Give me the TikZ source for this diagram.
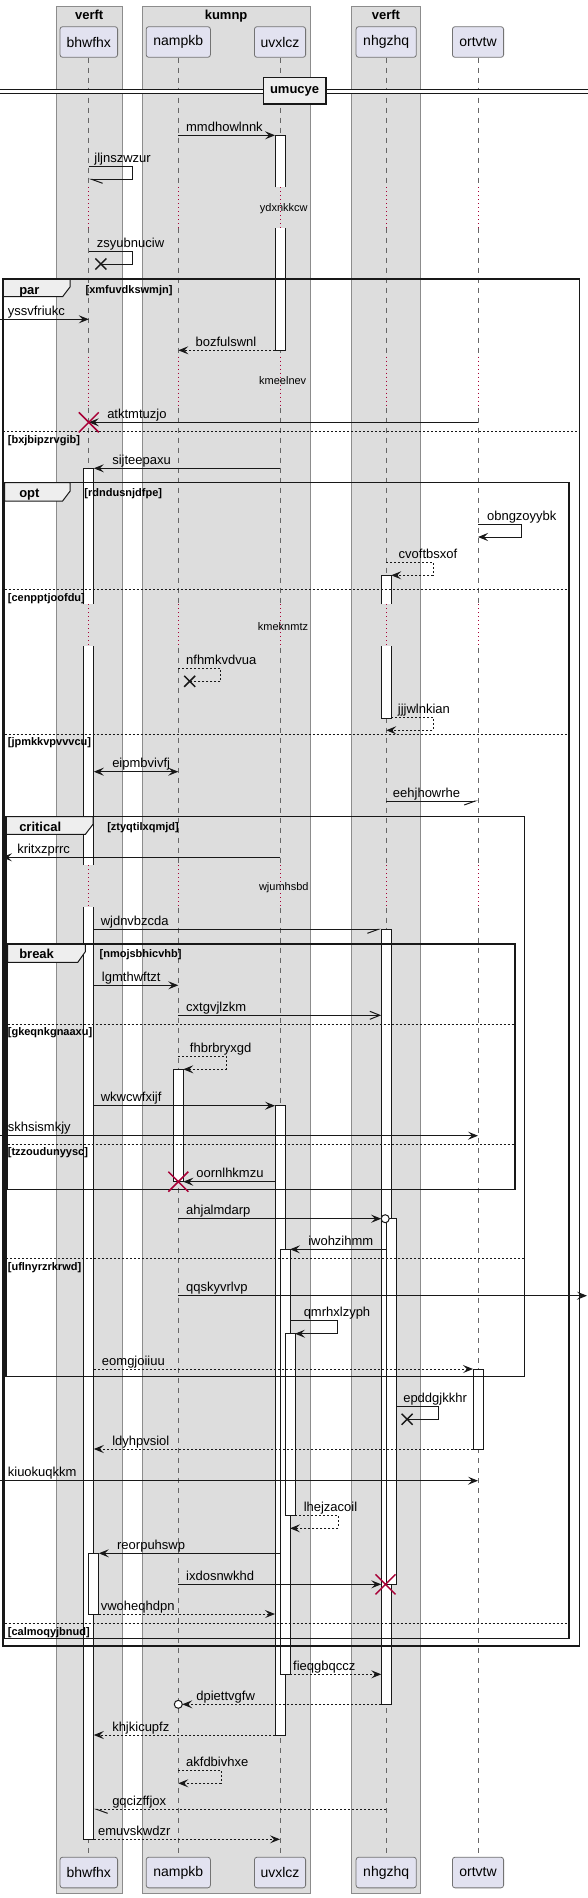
\documentclass[tikz,border=0pt]{standalone}
\usepackage{fontspec}
\setmainfont{Liberation Sans}
\usetikzlibrary{arrows.meta}
\definecolor{ink}{HTML}{181818}
\definecolor{boxgray}{HTML}{DDDDDD}
\definecolor{partfill}{HTML}{E2E2F0}
\definecolor{tabfill}{HTML}{EEEEEE}
\definecolor{delayred}{HTML}{A80036}
\begin{document}
\begin{tikzpicture}[x=0.75pt, y=-0.75pt,
    part/.style={rectangle, rounded corners=2pt, draw=black!55, line width=0.6pt, fill=partfill, minimum height=23pt, inner sep=0pt, font=\fontsize{10.5}{12}\selectfont},
    grp/.style={draw=black!45, line width=0.6pt, fill=boxgray},
    grptitle/.style={anchor=base, inner sep=0pt, font=\bfseries\fontsize{9.75}{11}\selectfont},
    lifeline/.style={draw=black!60, line width=0.5pt, dash pattern=on 3.75pt off 3.75pt},
    delayline/.style={draw=delayred, line width=0.6pt, dash pattern=on 0.75pt off 2.25pt},
    delaytxt/.style={anchor=base, inner sep=0pt, font=\fontsize{8.25}{10}\selectfont},
    divider/.style={draw=ink, line width=1.1pt, fill=tabfill, minimum width=47pt, minimum height=19.7pt, inner sep=0pt, font=\bfseries\fontsize{9.75}{11}\selectfont},
    act/.style={draw=ink, line width=0.75pt},
    frame/.style={draw=ink, line width=1.1pt},
    tab/.style={draw=ink, line width=0.75pt, fill=tabfill},
    sep/.style={draw=ink, line width=0.6pt, dash pattern=on 1.5pt off 1.5pt},
    tabtxt/.style={anchor=base west, inner sep=0pt, font=\bfseries\fontsize{9.75}{11}\selectfont},
    condtxt/.style={anchor=base west, inner sep=0pt, font=\bfseries\fontsize{8.25}{10}\selectfont},
    msgtxt/.style={anchor=base west, inner sep=0pt, font=\fontsize{9.75}{11}\selectfont},
    plain/.style={draw=ink, line width=0.75pt},
    plainret/.style={plain, dash pattern=on 1.5pt off 1.5pt},
    sync/.style={plain, -{Stealth[length=7.5pt, width=6pt, inset=3pt]}},
    ret/.style={plainret, -{Stealth[length=7.5pt, width=6pt, inset=3pt]}},
    both/.style={plain, {Stealth[length=7.5pt, width=6pt, inset=3pt]}-{Stealth[length=7.5pt, width=6pt, inset=3pt]}},
    open/.style={plain, -{Straight Barb[length=7.5pt, width=6pt]}},
    halfl/.style={plain, -{Straight Barb[left, length=8.25pt, width=6pt]}},
    halfr/.style={plain, -{Straight Barb[right, length=8.25pt, width=6pt]}},
    halfrret/.style={plainret, -{Straight Barb[left, length=8.25pt, width=6pt]}},
    redx/.style={draw=delayred, line width=1.1pt},
    blackx/.style={draw=ink, line width=1.1pt}]
\useasboundingbox (0,0) rectangle (588,1898);

% Participant groups
\filldraw[grp] (56.2,6) rectangle (122.2,1893);
\filldraw[grp] (141.9,6) rectangle (310.3,1893);
\filldraw[grp] (351.3,6) rectangle (420.4,1893);
\node[grptitle] (g1) at (89.2,19.5) {verft};
\node[grptitle] (g2) at (226.1,19.5) {kumnp};
\node[grptitle] (g3) at (385.9,19.5) {verft};

% Participants
\node[part, minimum width=43.2pt] (bhwfhx) at (88.8,42) {bhwfhx};
\node[part, minimum width=48.2pt] (nampkb) at (178.3,42) {nampkb};
\node[part, minimum width=38.4pt] (uvxlcz) at (280,42) {uvxlcz};
\node[part, minimum width=45.2pt] (nhgzhq) at (386.2,42) {nhgzhq};
\node[part, minimum width=38.4pt] (ortvtw) at (478,42) {ortvtw};
\node[part, minimum width=43.2pt] (bhwfhx-f) at (88.8,1872.5) {bhwfhx};
\node[part, minimum width=48.2pt] (nampkb-f) at (178.3,1872.5) {nampkb};
\node[part, minimum width=38.4pt] (uvxlcz-f) at (280,1872.5) {uvxlcz};
\node[part, minimum width=45.2pt] (nhgzhq-f) at (386.2,1872.5) {nhgzhq};
\node[part, minimum width=38.4pt] (ortvtw-f) at (478,1872.5) {ortvtw};

% Lifelines with delays
\foreach \p/\bg in {bhwfhx/boxgray, nampkb/boxgray, uvxlcz/boxgray, nhgzhq/boxgray, ortvtw/white} {
  \draw[lifeline] (\p.south) -- (\p-f.north);
  \foreach \ya/\yb in {187.3/228.3, 356.7/406.7, 604.3/646, 865/907.3} {
    \draw[draw=\bg, line width=1.5pt] (\p.south |- 0,\ya) -- (\p.south |- 0,\yb);
    \draw[delayline] (\p.south |- 0,\ya) -- (\p.south |- 0,\yb);
  }
}
\node[delaytxt] (d1) at (283.8,211.8) {ydxnkkcw};
\node[delaytxt] (d2) at (282.7,384.2) {kmeelnev};
\node[delaytxt] (d3) at (283,630.2) {kmeknmtz};
\node[delaytxt] (d4) at (283.8,890.8) {wjumhsbd};

% Divider
\fill[white] (0,89.3) rectangle (588,94);
\draw[plain] (0,89.3) -- (588,89.3) (0,94) -- (588,94);
\node[divider] (umucye) at (294.6,90.9) {umucye};

% Activations
\fill[white] (83.8,468.3) rectangle (93.8,604.3);
\draw[act] (83.8,604.3) -- (83.8,468.3) -- (93.8,468.3) -- (93.8,604.3);
\fill[white] (83.8,646) rectangle (93.8,865);
\draw[act] (83.8,646) -- (83.8,865) (93.8,646) -- (93.8,865);
\fill[white] (83.8,907.3) rectangle (93.8,1839.3);
\draw[act] (83.8,907.3) -- (83.8,1839.3) -- (93.8,1839.3) -- (93.8,907.3);
\filldraw[act, fill=white] (88.8,1553.3) rectangle (98.8,1614);
\filldraw[act, fill=white] (173.3,1069.3) rectangle (183.3,1181.7);
\fill[white] (275,135.3) rectangle (285,187.3);
\draw[act] (275,187.3) -- (275,135.3) -- (285,135.3) -- (285,187.3);
\fill[white] (275,228.3) rectangle (285,350.3);
\draw[act] (275,228.3) -- (275,350.3) -- (285,350.3) -- (285,228.3);
\filldraw[act, fill=white] (275,1105.7) rectangle (285,1735);
\filldraw[act, fill=white] (280,1249.3) rectangle (290,1674.3);
\filldraw[act, fill=white] (285,1333.7) rectangle (295,1515.7);
\fill[white] (381.2,575.3) rectangle (391.2,604.3);
\draw[act] (381.2,604.3) -- (381.2,575.3) -- (391.2,575.3) -- (391.2,604.3);
\fill[white] (381.2,646) rectangle (391.2,718.3);
\draw[act] (381.2,646) -- (381.2,718.3) -- (391.2,718.3) -- (391.2,646);
\filldraw[act, fill=white] (381.2,929.3) rectangle (391.2,1704.3);
\filldraw[act, fill=white] (386.2,1218.7) rectangle (396.2,1584.3);
\filldraw[act, fill=white] (473,1369) rectangle (483,1449);

% Frames
\filldraw[tab] (3,279) -- (70.2,279) -- (70.2,286.7) -- (62.6,296.7) -- (3,296.7) -- cycle;
\draw[frame] (3,279) rectangle (579.3,1646);
\node[tabtxt] (par) at (19,294.2) {par};
\node[condtxt] (par-c1) at (85.4,293.2) {[xmfuvdkswmjn]};
\draw[sep] (3,431.3) -- (579.3,431.3);
\node[condtxt] (par-c2) at (7.6,443.5) {[bxjbipzrvgib]};

\filldraw[tab] (4.5,482.7) -- (70.2,482.7) -- (70.2,491) -- (62.6,501) -- (4.5,501) -- cycle;
\draw[frame] (4.5,482.7) rectangle (569.1,1638.3);
\node[tabtxt] (opt) at (19,497.8) {opt};
\node[condtxt] (opt-c1) at (84.2,496.8) {[rdndusnjdfpe]};
\draw[sep] (4.5,589.3) -- (569.1,589.3);
\node[condtxt] (opt-c2) at (7.6,601.2) {[cenpptjoofdu]};
\draw[sep] (4.5,734.3) -- (569.1,734.3);
\node[condtxt] (opt-c3) at (7.6,745.8) {[jpmkkvpvvvcu]};
\draw[sep] (4.5,1623.3) -- (569.1,1623.3);
\node[condtxt] (opt-c4) at (7.6,1635.2) {[calmoqyjbnud]};

\filldraw[tab] (6,816.7) -- (93,816.7) -- (93,824.3) -- (85.4,834.3) -- (6,834.3) -- cycle;
\draw[frame] (6,816.7) rectangle (524.7,1376.7);
\node[tabtxt] (critical) at (19,831.2) {critical};
\node[condtxt] (crit-c1) at (107,830.2) {[ztyqtilxqmjd]};
\draw[sep] (6,1258.3) -- (524.7,1258.3);
\node[condtxt] (crit-c2) at (7.6,1270.2) {[uflnyrzrkrwd]};

\filldraw[tab] (7.5,944) -- (85.4,944) -- (85.4,951.6) -- (77.8,962.3) -- (7.5,962.3) -- cycle;
\draw[frame] (7.5,944) rectangle (514.8,1189.3);
\node[tabtxt] (break) at (19,958.8) {break};
\node[condtxt] (brk-c1) at (99.4,957.8) {[nmojsbhicvhb]};
\draw[sep] (7.5,1024.3) -- (514.8,1024.3);
\node[condtxt] (brk-c2) at (7.6,1035.8) {[gkeqnkgnaaxu]};
\draw[sep] (7.5,1144.3) -- (514.8,1144.3);
\node[condtxt] (brk-c3) at (7.6,1155.8) {[tzzoudunyysc]};

% Messages
\coordinate (m1a) at (178.3,135.3); \coordinate (m1b) at (275,135.3);
\draw[sync] (m1a) -- (m1b);
\node[msgtxt] (t1) at (185.9,131.3) {mmdhowlnnk};

\coordinate (m2a) at (88.8,166.3); \coordinate (m2b) at (88.8,179.3);
\draw[halfl] (m2a) -- ++(43.2,0) |- (m2b);
\node[msgtxt] (t2) at (94.1,162.3) {jljnszwzur};

\coordinate (m3a) at (88.8,251.3); \coordinate (m3b) at (100.8,264);
\draw[plain] (m3a) -- ++(43.2,0) |- (m3b);
\draw[blackx] (m3b) +(-5.5,-5.5) -- +(5.5,5.5) +(-5.5,5.5) -- +(5.5,-5.5);
\node[msgtxt] (t3) at (96.7,247.3) {zsyubnuciw};

\coordinate (m4a) at (0,319.3); \coordinate (m4b) at (88.8,319.3);
\draw[sync] (m4a) -- (m4b);
\node[msgtxt] (t4) at (7.6,315.3) {yssvfriukc};

\coordinate (m5a) at (275,350.3); \coordinate (m5b) at (178.3,350.3);
\draw[ret] (m5a) -- (m5b);
\node[msgtxt] (t5) at (195.4,346.3) {bozfulswnl};

\coordinate (m6a) at (478,422.3); \coordinate (m6b) at (88.8,422.3);
\draw[sync] (m6a) -- (m6b);
\draw[redx] (m6b) +(-10,-10) -- +(10,10) +(-10,10) -- +(10,-10);
\node[msgtxt] (t6) at (107,418.3) {atktmtuzjo};

\coordinate (m7a) at (280,468.3); \coordinate (m7b) at (93.8,468.3);
\draw[sync] (m7a) -- (m7b);
\node[msgtxt] (t7) at (112,464.3) {sijteepaxu};

\coordinate (m8a) at (478,524.3); \coordinate (m8b) at (478,537);
\draw[sync] (m8a) -- ++(43.7,0) |- (m8b);
\node[msgtxt] (t8) at (486.8,520.3) {obngzoyybk};

\coordinate (m9a) at (386.2,562.3); \coordinate (m9b) at (391.2,575.3);
\draw[ret] (m9a) -- ++(47.1,0) |- (m9b);
\node[msgtxt] (t9) at (398.4,558.3) {cvoftbsxof};

\coordinate (m10a) at (178.3,668.3); \coordinate (m10b) at (189.7,681.3);
\draw[plainret] (m10a) -- ++(42.5,0) |- (m10b);
\draw[blackx] (m10b) +(-5.5,-5.5) -- +(5.5,5.5) +(-5.5,5.5) -- +(5.5,-5.5);
\node[msgtxt] (t10) at (185.9,664.3) {nfhmkvdvua};

\coordinate (m11a) at (391.2,717.3); \coordinate (m11b) at (386.2,730.3);
\draw[ret] (m11a) -- ++(42.1,0) |- (m11b);
\node[msgtxt] (t11) at (397.6,713.3) {jjjwlnkian};

\coordinate (m12a) at (93.8,771.7); \coordinate (m12b) at (178.3,771.7);
\draw[both] (m12a) -- (m12b);
\node[msgtxt] (t12) at (112,767.7) {eipmbvivfj};

\coordinate (m13a) at (386.2,801); \coordinate (m13b) at (478,801);
\draw[halfr] (m13a) -- (m13b);
\node[msgtxt] (t13) at (392.7,797) {eehjhowrhe};

\coordinate (m14a) at (280,857.3); \coordinate (m14b) at (2,857.3);
\draw[sync] (m14a) -- (m14b);
\node[msgtxt] (t14) at (17,853.3) {kritxzprrc};

\coordinate (m15a) at (93.8,929.3); \coordinate (m15b) at (381.2,929.3);
\draw[halfr] (m15a) -- (m15b);
\node[msgtxt] (t15) at (100.5,925.3) {wjdnvbzcda};

\coordinate (m16a) at (93.8,985.3); \coordinate (m16b) at (178.3,985.3);
\draw[sync] (m16a) -- (m16b);
\node[msgtxt] (t16) at (101.7,981.3) {lgmthwftzt};

\coordinate (m17a) at (178.3,1015.3); \coordinate (m17b) at (381.2,1015.3);
\draw[open] (m17a) -- (m17b);
\node[msgtxt] (t17) at (185.9,1011.3) {cxtgvjlzkm};

\coordinate (m18a) at (178.3,1056); \coordinate (m18b) at (183.3,1069.3);
\draw[ret] (m18a) -- ++(47.8,0) |- (m18b);
\node[msgtxt] (t18) at (189.7,1052) {fhbrbryxgd};

\coordinate (m19a) at (93.8,1105.7); \coordinate (m19b) at (275,1105.7);
\draw[sync] (m19a) -- (m19b);
\node[msgtxt] (t19) at (100.5,1101.7) {wkwcwfxijf};

\coordinate (m20a) at (0,1135.7); \coordinate (m20b) at (478,1135.7);
\draw[sync] (m20a) -- (m20b);
\node[msgtxt] (t20) at (7.6,1131.7) {skhsismkjy};

\coordinate (m21a) at (275,1181.7); \coordinate (m21b) at (183.3,1181.7);
\coordinate (x21) at (178.3,1181.7);
\draw[sync] (m21a) -- (m21b);
\draw[redx] (x21) +(-10,-10) -- +(10,10) +(-10,10) -- +(10,-10);
\node[msgtxt] (t21) at (196.1,1177.7) {oornlhkmzu};

\coordinate (m22a) at (178.3,1218.7); \coordinate (m22b) at (381.2,1218.7);
\coordinate (o22) at (385.2,1218.7);
\draw[sync] (m22a) -- (m22b);
\draw[plain, fill=white] (o22) circle[radius=3pt];
\node[msgtxt] (t22) at (185.9,1214.7) {ahjalmdarp};

\coordinate (m23a) at (386.2,1249.3); \coordinate (m23b) at (290,1249.3);
\draw[sync] (m23a) -- (m23b);
\node[msgtxt] (t23) at (308,1245.3) {iwohzihmm};

\coordinate (m24a) at (178.3,1295.7); \coordinate (m24b) at (587,1295.7);
\draw[sync] (m24a) -- (m24b);
\node[msgtxt] (t24) at (185.9,1291.7) {qqskyvrlvp};

\coordinate (m25a) at (290,1320.7); \coordinate (m25b) at (295,1333.7);
\draw[sync] (m25a) -- ++(47.7,0) |- (m25b);
\node[msgtxt] (t25) at (303.5,1316.7) {qmrhxlzyph};

\coordinate (m26a) at (93.8,1369); \coordinate (m26b) at (473,1369);
\draw[ret] (m26a) -- (m26b);
\node[msgtxt] (t26) at (101.7,1365) {eomgjoiiuu};

\coordinate (m27a) at (396.2,1406.7); \coordinate (m27b) at (407.1,1419.3);
\draw[plain] (m27a) -- ++(42.4,0) |- (m27b);
\draw[blackx] (m27b) +(-5.5,-5.5) -- +(5.5,5.5) +(-5.5,5.5) -- +(5.5,-5.5);
\node[msgtxt] (t27) at (403,1402.7) {epddgjkkhr};

\coordinate (m28a) at (473,1449); \coordinate (m28b) at (93.8,1449);
\draw[ret] (m28a) -- (m28b);
\node[msgtxt] (t28) at (112,1445) {ldyhpvsiol};

\coordinate (m29a) at (0,1480.7); \coordinate (m29b) at (478,1480.7);
\draw[sync] (m29a) -- (m29b);
\node[msgtxt] (t29) at (7.6,1476.7) {kiuokuqkkm};

\coordinate (m30a) at (295,1515.7); \coordinate (m30b) at (290,1528.3);
\draw[ret] (m30a) -- ++(43.4,0) |- (m30b);
\node[msgtxt] (t30) at (303.5,1511.7) {lhejzacoil};

\coordinate (m31a) at (280,1553.3); \coordinate (m31b) at (98.8,1553.3);
\draw[sync] (m31a) -- (m31b);
\node[msgtxt] (t31) at (116.9,1549.3) {reorpuhswp};

\coordinate (m32a) at (178.3,1584.3); \coordinate (m32b) at (381.2,1584.3);
\coordinate (x32) at (385.5,1584.3);
\draw[sync] (m32a) -- (m32b);
\draw[redx] (x32) +(-10,-10) -- +(10,10) +(-10,10) -- +(10,-10);
\node[msgtxt] (t32) at (185.9,1580.3) {ixdosnwkhd};

\coordinate (m33a) at (98.8,1614); \coordinate (m33b) at (275,1614);
\draw[ret] (m33a) -- (m33b);
\node[msgtxt] (t33) at (100.5,1610) {vwoheqhdpn};

\coordinate (m34a) at (290,1674.3); \coordinate (m34b) at (381.2,1674.3);
\draw[ret] (m34a) -- (m34b);
\node[msgtxt] (t34) at (292.9,1670.3) {fieqgbqccz};

\coordinate (m35a) at (381.2,1704.3); \coordinate (m35b) at (182.3,1704.3);
\coordinate (o35) at (178.3,1704.3);
\draw[ret] (m35a) -- (m35b);
\draw[plain, fill=white] (o35) circle[radius=3pt];
\node[msgtxt] (t35) at (196.1,1700.3) {dpiettvgfw};

\coordinate (m36a) at (275,1735); \coordinate (m36b) at (93.8,1735);
\draw[ret] (m36a) -- (m36b);
\node[msgtxt] (t36) at (112,1731) {khjkicupfz};

\coordinate (m37a) at (178.3,1770); \coordinate (m37b) at (178.3,1783.3);
\draw[ret] (m37a) -- ++(42.9,0) |- (m37b);
\node[msgtxt] (t37) at (185.9,1766) {akfdbivhxe};

\coordinate (m38a) at (386.2,1809.3); \coordinate (m38b) at (93.8,1809.3);
\draw[halfrret] (m38a) -- (m38b);
\node[msgtxt] (t38) at (112,1805.3) {gqcizffjox};

\coordinate (m39a) at (93.8,1839.3); \coordinate (m39b) at (280,1839.3);
\draw[ret] (m39a) -- (m39b);
\node[msgtxt] (t39) at (97.9,1835.3) {emuvskwdzr};

\end{tikzpicture}
\end{document}
